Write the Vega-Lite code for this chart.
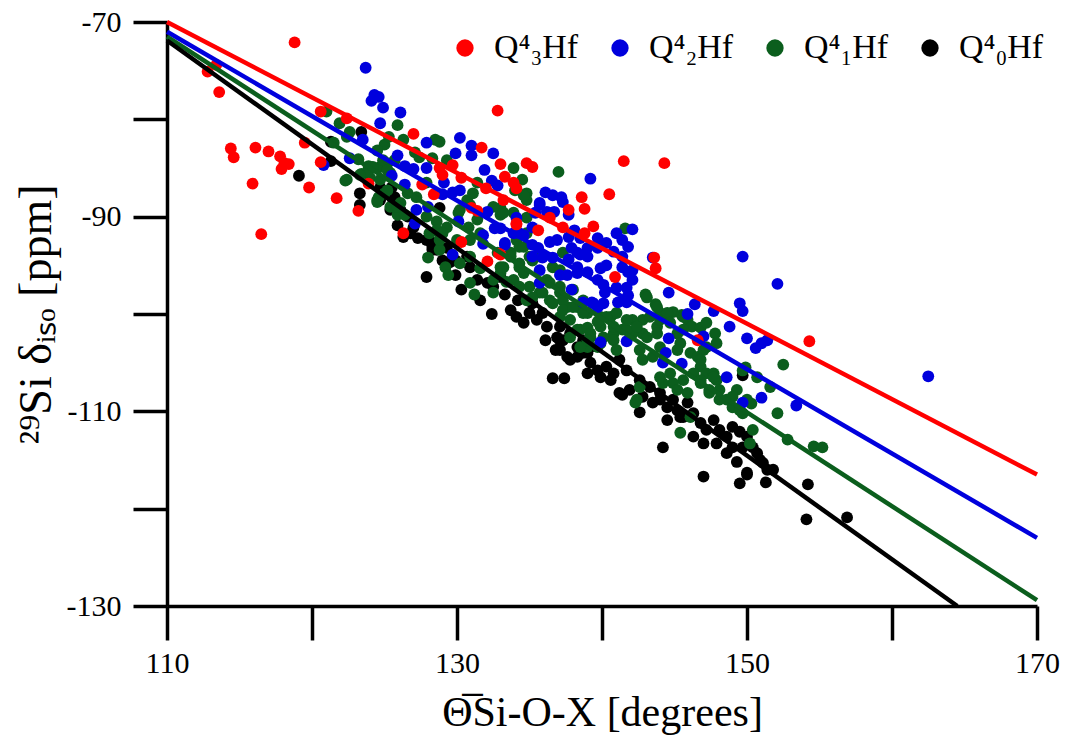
{
  "$schema": "https://vega.github.io/schema/vega-lite/v6.json",
  "width": 870,
  "height": 584,
  "autosize": {"type": "none"},
  "padding": {"left": 167, "top": 22, "right": 28, "bottom": 142},
  "config": {"view": {"stroke": null}, "font": "Liberation Serif"},
  "datasets": {
    "lines": [
      {"g": "3", "x": 110, "y": -70.0}, {"g": "3", "x": 170, "y": -116.5},
      {"g": "2", "x": 110, "y": -71.0}, {"g": "2", "x": 170, "y": -123.0},
      {"g": "1", "x": 110, "y": -71.5}, {"g": "1", "x": 170, "y": -129.4},
      {"g": "0", "x": 110, "y": -71.9}, {"g": "0", "x": 164.5, "y": -130.0}
    ],
    "pts": [
      {"g":"0","x":123.4,"y":-81.3},{"g":"0","x":121.3,"y":-82.3},{"g":"0","x":121.3,"y":-84.3},{"g":"0","x":119.1,"y":-85.8},{"g":"0","x":123.3,"y":-87.6},{"g":"0","x":123.3,"y":-88.8},{"g":"0","x":125.5,"y":-87.0},{"g":"0","x":125.7,"y":-88.0},{"g":"0","x":125.4,"y":-89.3},{"g":"0","x":125.9,"y":-89.0},{"g":"0","x":124.7,"y":-87.0},{"g":"0","x":125.6,"y":-88.3},{"g":"0","x":126.1,"y":-89.3},{"g":"0","x":126.6,"y":-90.0},{"g":"0","x":127.0,"y":-91.1},{"g":"0","x":127.3,"y":-92.2},{"g":"0","x":128.1,"y":-92.4},{"g":"0","x":128.3,"y":-93.4},{"g":"0","x":129.3,"y":-93.2},{"g":"0","x":129.0,"y":-94.5},{"g":"0","x":129.9,"y":-94.5},{"g":"0","x":130.7,"y":-94.1},{"g":"0","x":128.8,"y":-89.1},{"g":"0","x":125.9,"y":-90.9},{"g":"0","x":126.3,"y":-92.1},{"g":"0","x":124.7,"y":-88.3},{"g":"0","x":126.8,"y":-91.7},{"g":"0","x":127.9,"y":-92.4},{"g":"0","x":128.3,"y":-93.1},{"g":"0","x":128.6,"y":-93.4},{"g":"0","x":127.9,"y":-96.2},{"g":"0","x":130.9,"y":-95.2},{"g":"0","x":131.4,"y":-96.5},{"g":"0","x":132.1,"y":-96.8},{"g":"0","x":132.5,"y":-97.2},{"g":"0","x":133.0,"y":-96.2},{"g":"0","x":132.4,"y":-100.0},{"g":"0","x":133.7,"y":-99.6},{"g":"0","x":134.1,"y":-100.3},{"g":"0","x":134.6,"y":-100.9},{"g":"0","x":135.0,"y":-99.9},{"g":"0","x":135.5,"y":-100.6},{"g":"0","x":135.9,"y":-99.9},{"g":"0","x":135.2,"y":-98.9},{"g":"0","x":136.2,"y":-101.3},{"g":"0","x":136.9,"y":-102.4},{"g":"0","x":137.3,"y":-102.7},{"g":"0","x":137.8,"y":-102.0},{"g":"0","x":138.3,"y":-103.4},{"g":"0","x":138.7,"y":-102.7},{"g":"0","x":137.1,"y":-103.7},{"g":"0","x":137.6,"y":-104.4},{"g":"0","x":138.3,"y":-104.4},{"g":"0","x":139.0,"y":-104.0},{"g":"0","x":139.2,"y":-103.4},{"g":"0","x":136.6,"y":-106.6},{"g":"0","x":137.4,"y":-106.6},{"g":"0","x":139.0,"y":-106.1},{"g":"0","x":137.1,"y":-101.3},{"g":"0","x":137.1,"y":-102.7},{"g":"0","x":137.8,"y":-104.7},{"g":"0","x":138.7,"y":-104.0},{"g":"0","x":139.2,"y":-105.0},{"g":"0","x":139.7,"y":-105.8},{"g":"0","x":139.9,"y":-106.5},{"g":"0","x":140.6,"y":-106.8},{"g":"0","x":141.2,"y":-104.7},{"g":"0","x":141.7,"y":-105.8},{"g":"0","x":140.3,"y":-105.4},{"g":"0","x":140.8,"y":-106.1},{"g":"0","x":141.2,"y":-108.1},{"g":"0","x":141.9,"y":-107.8},{"g":"0","x":142.6,"y":-106.8},{"g":"0","x":142.8,"y":-108.5},{"g":"0","x":143.3,"y":-107.5},{"g":"0","x":144.0,"y":-108.1},{"g":"0","x":143.5,"y":-109.1},{"g":"0","x":144.5,"y":-109.6},{"g":"0","x":144.9,"y":-108.8},{"g":"0","x":145.2,"y":-109.9},{"g":"0","x":145.4,"y":-110.6},{"g":"0","x":145.9,"y":-109.1},{"g":"0","x":142.6,"y":-110.1},{"g":"0","x":146.3,"y":-110.2},{"g":"0","x":146.8,"y":-111.2},{"g":"0","x":147.2,"y":-111.9},{"g":"0","x":147.7,"y":-110.9},{"g":"0","x":148.1,"y":-111.9},{"g":"0","x":148.6,"y":-112.6},{"g":"0","x":146.3,"y":-112.6},{"g":"0","x":147.0,"y":-113.3},{"g":"0","x":147.9,"y":-113.3},{"g":"0","x":149.0,"y":-111.6},{"g":"0","x":149.5,"y":-112.1},{"g":"0","x":150.0,"y":-112.6},{"g":"0","x":150.7,"y":-114.3},{"g":"0","x":151.1,"y":-115.3},{"g":"0","x":151.8,"y":-116.0},{"g":"0","x":149.7,"y":-113.7},{"g":"0","x":149.0,"y":-113.7},{"g":"0","x":144.2,"y":-113.7},{"g":"0","x":148.6,"y":-114.3},{"g":"0","x":150.0,"y":-116.3},{"g":"0","x":147.0,"y":-116.7},{"g":"0","x":149.7,"y":-106.3},{"g":"0","x":141.4,"y":-108.3},{"g":"0","x":144.0,"y":-108.8},{"g":"0","x":144.5,"y":-110.9},{"g":"0","x":145.6,"y":-110.6},{"g":"0","x":149.3,"y":-115.2},{"g":"0","x":150.4,"y":-113.7},{"g":"0","x":150.9,"y":-115.0},{"g":"0","x":151.4,"y":-116.0},{"g":"0","x":149.5,"y":-117.4},{"g":"0","x":150.0,"y":-116.5},{"g":"0","x":151.3,"y":-117.3},{"g":"0","x":154.2,"y":-117.5},{"g":"0","x":154.1,"y":-121.1},{"g":"0","x":156.9,"y":-120.9},{"g":"0","x":129.9,"y":-96.0},{"g":"0","x":130.3,"y":-97.5},{"g":"0","x":131.6,"y":-98.6},{"g":"0","x":133.3,"y":-98.0},{"g":"0","x":134.2,"y":-98.6},{"g":"0","x":136.1,"y":-102.7},{"g":"0","x":136.8,"y":-103.7},{"g":"0","x":129.5,"y":-94.7},
      {"g":"1","x":121.0,"y":-79.2},{"g":"1","x":121.9,"y":-80.4},{"g":"1","x":122.6,"y":-81.3},{"g":"1","x":122.4,"y":-81.8},{"g":"1","x":121.5,"y":-82.4},{"g":"1","x":123.2,"y":-84.1},{"g":"1","x":123.9,"y":-84.8},{"g":"1","x":125.0,"y":-82.6},{"g":"1","x":125.3,"y":-81.8},{"g":"1","x":123.4,"y":-85.6},{"g":"1","x":124.0,"y":-86.0},{"g":"1","x":124.7,"y":-84.9},{"g":"1","x":125.2,"y":-84.5},{"g":"1","x":125.7,"y":-84.2},{"g":"1","x":125.4,"y":-85.5},{"g":"1","x":122.3,"y":-86.3},{"g":"1","x":124.6,"y":-88.0},{"g":"1","x":125.0,"y":-87.6},{"g":"1","x":124.5,"y":-88.5},{"g":"1","x":125.9,"y":-80.6},{"g":"1","x":126.3,"y":-82.1},{"g":"1","x":127.1,"y":-83.4},{"g":"1","x":127.4,"y":-83.9},{"g":"1","x":128.5,"y":-82.1},{"g":"1","x":128.8,"y":-82.3},{"g":"1","x":128.3,"y":-84.0},{"g":"1","x":129.3,"y":-84.2},{"g":"1","x":124.5,"y":-83.2},{"g":"1","x":124.9,"y":-84.2},{"g":"1","x":125.2,"y":-85.2},{"g":"1","x":124.2,"y":-84.9},{"g":"1","x":123.8,"y":-85.4},{"g":"1","x":123.3,"y":-85.7},{"g":"1","x":122.4,"y":-86.2},{"g":"1","x":124.7,"y":-86.2},{"g":"1","x":125.2,"y":-87.3},{"g":"1","x":124.5,"y":-88.3},{"g":"1","x":125.4,"y":-89.0},{"g":"1","x":126.1,"y":-88.6},{"g":"1","x":125.9,"y":-89.8},{"g":"1","x":126.6,"y":-87.6},{"g":"1","x":127.2,"y":-88.0},{"g":"1","x":127.9,"y":-86.5},{"g":"1","x":127.9,"y":-90.0},{"g":"1","x":128.6,"y":-90.5},{"g":"1","x":128.1,"y":-91.7},{"g":"1","x":128.8,"y":-91.7},{"g":"1","x":129.3,"y":-91.1},{"g":"1","x":130.1,"y":-89.6},{"g":"1","x":130.7,"y":-88.3},{"g":"1","x":131.1,"y":-87.6},{"g":"1","x":131.4,"y":-86.5},{"g":"1","x":130.8,"y":-91.1},{"g":"1","x":131.4,"y":-90.3},{"g":"1","x":130.9,"y":-92.4},{"g":"1","x":131.6,"y":-91.7},{"g":"1","x":128.0,"y":-94.2},{"g":"1","x":128.8,"y":-93.4},{"g":"1","x":133.9,"y":-85.0},{"g":"1","x":134.5,"y":-86.2},{"g":"1","x":134.8,"y":-87.6},{"g":"1","x":134.0,"y":-87.3},{"g":"1","x":137.0,"y":-85.4},{"g":"1","x":133.0,"y":-89.1},{"g":"1","x":133.9,"y":-89.6},{"g":"1","x":134.8,"y":-90.1},{"g":"1","x":132.8,"y":-93.7},{"g":"1","x":134.1,"y":-92.4},{"g":"1","x":135.2,"y":-94.5},{"g":"1","x":134.3,"y":-95.2},{"g":"1","x":133.0,"y":-95.2},{"g":"1","x":135.7,"y":-94.1},{"g":"1","x":136.6,"y":-95.2},{"g":"1","x":137.3,"y":-93.7},{"g":"1","x":134.8,"y":-88.3},{"g":"1","x":134.6,"y":-87.8},{"g":"1","x":133.0,"y":-89.8},{"g":"1","x":133.7,"y":-93.7},{"g":"1","x":134.3,"y":-93.1},{"g":"1","x":134.3,"y":-94.8},{"g":"1","x":135.0,"y":-94.1},{"g":"1","x":134.6,"y":-95.8},{"g":"1","x":133.0,"y":-95.8},{"g":"1","x":133.9,"y":-96.5},{"g":"1","x":135.0,"y":-97.2},{"g":"1","x":136.2,"y":-96.5},{"g":"1","x":135.7,"y":-97.8},{"g":"1","x":134.8,"y":-98.6},{"g":"1","x":136.4,"y":-98.6},{"g":"1","x":137.1,"y":-97.8},{"g":"1","x":137.6,"y":-99.3},{"g":"1","x":138.3,"y":-99.3},{"g":"1","x":141.6,"y":-91.2},{"g":"1","x":143.0,"y":-98.0},{"g":"1","x":143.7,"y":-99.0},{"g":"1","x":144.0,"y":-99.9},{"g":"1","x":144.5,"y":-100.3},{"g":"1","x":144.9,"y":-99.8},{"g":"1","x":145.5,"y":-100.1},{"g":"1","x":145.9,"y":-100.6},{"g":"1","x":146.2,"y":-101.3},{"g":"1","x":146.8,"y":-101.4},{"g":"1","x":147.2,"y":-100.9},{"g":"1","x":147.8,"y":-102.0},{"g":"1","x":147.9,"y":-103.0},{"g":"1","x":142.8,"y":-100.6},{"g":"1","x":142.8,"y":-102.0},{"g":"1","x":143.8,"y":-101.3},{"g":"1","x":142.1,"y":-100.6},{"g":"1","x":142.1,"y":-102.0},{"g":"1","x":138.7,"y":-98.6},{"g":"1","x":139.0,"y":-99.9},{"g":"1","x":139.9,"y":-100.3},{"g":"1","x":140.6,"y":-100.3},{"g":"1","x":141.0,"y":-99.9},{"g":"1","x":139.9,"y":-101.3},{"g":"1","x":140.8,"y":-102.0},{"g":"1","x":141.4,"y":-101.6},{"g":"1","x":137.8,"y":-100.6},{"g":"1","x":138.5,"y":-101.6},{"g":"1","x":137.8,"y":-102.4},{"g":"1","x":139.2,"y":-102.4},{"g":"1","x":139.9,"y":-103.0},{"g":"1","x":137.1,"y":-97.2},{"g":"1","x":137.3,"y":-98.6},{"g":"1","x":138.0,"y":-97.5},{"g":"1","x":137.1,"y":-100.3},{"g":"1","x":138.3,"y":-101.6},{"g":"1","x":139.0,"y":-101.4},{"g":"1","x":139.0,"y":-103.4},{"g":"1","x":139.7,"y":-103.4},{"g":"1","x":140.1,"y":-102.4},{"g":"1","x":139.7,"y":-100.8},{"g":"1","x":140.3,"y":-100.3},{"g":"1","x":140.8,"y":-101.3},{"g":"1","x":140.8,"y":-102.7},{"g":"1","x":141.0,"y":-103.7},{"g":"1","x":141.7,"y":-101.6},{"g":"1","x":141.7,"y":-100.6},{"g":"1","x":142.4,"y":-101.3},{"g":"1","x":142.6,"y":-103.7},{"g":"1","x":143.1,"y":-102.4},{"g":"1","x":142.8,"y":-104.7},{"g":"1","x":143.5,"y":-104.4},{"g":"1","x":144.0,"y":-103.4},{"g":"1","x":143.8,"y":-102.0},{"g":"1","x":143.3,"y":-100.3},{"g":"1","x":144.0,"y":-100.6},{"g":"1","x":144.5,"y":-99.9},{"g":"1","x":144.7,"y":-100.9},{"g":"1","x":145.2,"y":-102.0},{"g":"1","x":145.6,"y":-101.6},{"g":"1","x":145.4,"y":-103.0},{"g":"1","x":146.1,"y":-104.0},{"g":"1","x":146.6,"y":-104.4},{"g":"1","x":147.0,"y":-103.7},{"g":"1","x":146.8,"y":-105.4},{"g":"1","x":147.2,"y":-106.1},{"g":"1","x":146.3,"y":-106.1},{"g":"1","x":145.6,"y":-106.8},{"g":"1","x":144.9,"y":-107.1},{"g":"1","x":144.2,"y":-107.1},{"g":"1","x":144.0,"y":-106.5},{"g":"1","x":144.7,"y":-106.1},{"g":"1","x":145.2,"y":-107.8},{"g":"1","x":145.9,"y":-108.1},{"g":"1","x":146.8,"y":-107.1},{"g":"1","x":147.7,"y":-106.1},{"g":"1","x":147.9,"y":-106.8},{"g":"1","x":147.4,"y":-107.8},{"g":"1","x":148.1,"y":-107.8},{"g":"1","x":148.6,"y":-108.8},{"g":"1","x":149.3,"y":-107.8},{"g":"1","x":149.0,"y":-109.6},{"g":"1","x":149.7,"y":-110.2},{"g":"1","x":150.0,"y":-108.8},{"g":"1","x":147.2,"y":-103.4},{"g":"1","x":143.1,"y":-98.3},{"g":"1","x":143.8,"y":-99.3},{"g":"1","x":145.6,"y":-100.3},{"g":"1","x":142.4,"y":-108.8},{"g":"1","x":142.6,"y":-107.5},{"g":"1","x":145.2,"y":-103.7},{"g":"1","x":146.1,"y":-110.6},{"g":"1","x":145.4,"y":-112.2},{"g":"1","x":150.2,"y":-113.3},{"g":"1","x":150.4,"y":-111.9},{"g":"1","x":149.7,"y":-105.8},{"g":"1","x":150.7,"y":-106.5},{"g":"1","x":151.6,"y":-107.5},{"g":"1","x":152.1,"y":-110.2},{"g":"1","x":152.5,"y":-105.2},{"g":"1","x":152.8,"y":-112.9},{"g":"1","x":154.6,"y":-113.6},{"g":"1","x":155.2,"y":-113.7},{"g":"1","x":146.8,"y":-104.7},{"g":"1","x":147.7,"y":-106.5},{"g":"1","x":146.8,"y":-106.8},{"g":"1","x":149.9,"y":-105.5},{"g":"1","x":149.0,"y":-108.5},{"g":"1","x":149.5,"y":-109.9},{"g":"1","x":150.3,"y":-109.2},{"g":"1","x":142.3,"y":-109.1},{"g":"1","x":147.4,"y":-108.1},{"g":"1","x":148.1,"y":-108.8},{"g":"1","x":125.9,"y":-89.0},{"g":"1","x":126.4,"y":-89.8},{"g":"1","x":128.6,"y":-91.4},{"g":"1","x":129.0,"y":-91.7},{"g":"1","x":128.8,"y":-92.4},{"g":"1","x":130.0,"y":-92.4},{"g":"1","x":129.2,"y":-95.2},{"g":"1","x":129.4,"y":-96.0},{"g":"1","x":130.2,"y":-94.8},{"g":"1","x":130.9,"y":-94.1},{"g":"1","x":130.9,"y":-96.8},{"g":"1","x":131.2,"y":-98.0},{"g":"1","x":132.5,"y":-97.8},{"g":"1","x":131.6,"y":-95.3},{"g":"1","x":132.5,"y":-96.5},{"g":"1","x":133.2,"y":-95.2},{"g":"1","x":133.4,"y":-96.7},{"g":"1","x":134.3,"y":-97.2},{"g":"1","x":135.2,"y":-98.3},{"g":"1","x":135.9,"y":-97.8},{"g":"1","x":136.4,"y":-96.8},{"g":"1","x":134.6,"y":-93.1},{"g":"1","x":134.8,"y":-91.7},{"g":"1","x":133.7,"y":-94.1},{"g":"1","x":137.1,"y":-95.5},{"g":"1","x":136.6,"y":-98.9},{"g":"1","x":137.3,"y":-99.6},{"g":"1","x":138.0,"y":-99.3},{"g":"1","x":138.7,"y":-99.9},{"g":"1","x":139.2,"y":-102.0},{"g":"1","x":138.5,"y":-103.4},{"g":"1","x":139.0,"y":-102.7},{"g":"1","x":130.9,"y":-88.8},{"g":"1","x":132.5,"y":-89.0},{"g":"1","x":130.2,"y":-89.3},{"g":"1","x":133.2,"y":-89.6},
      {"g":"2","x":123.7,"y":-74.7},{"g":"2","x":124.3,"y":-77.5},{"g":"2","x":124.6,"y":-77.7},{"g":"2","x":124.1,"y":-78.1},{"g":"2","x":124.9,"y":-78.8},{"g":"2","x":124.7,"y":-80.4},{"g":"2","x":123.5,"y":-82.1},{"g":"2","x":122.6,"y":-84.0},{"g":"2","x":120.8,"y":-84.7},{"g":"2","x":125.5,"y":-85.8},{"g":"2","x":125.9,"y":-83.7},{"g":"2","x":126.1,"y":-79.3},{"g":"2","x":127.9,"y":-82.4},{"g":"2","x":130.2,"y":-81.9},{"g":"2","x":131.0,"y":-82.7},{"g":"2","x":129.9,"y":-83.5},{"g":"2","x":131.0,"y":-83.7},{"g":"2","x":132.5,"y":-83.5},{"g":"2","x":126.4,"y":-84.8},{"g":"2","x":127.0,"y":-85.1},{"g":"2","x":127.9,"y":-85.0},{"g":"2","x":131.9,"y":-85.2},{"g":"2","x":132.4,"y":-86.3},{"g":"2","x":126.4,"y":-86.7},{"g":"2","x":129.1,"y":-86.5},{"g":"2","x":129.7,"y":-87.5},{"g":"2","x":130.2,"y":-87.3},{"g":"2","x":132.8,"y":-86.8},{"g":"2","x":129.0,"y":-87.7},{"g":"2","x":128.0,"y":-89.0},{"g":"2","x":127.2,"y":-89.3},{"g":"2","x":127.1,"y":-90.7},{"g":"2","x":130.1,"y":-90.5},{"g":"2","x":132.1,"y":-89.5},{"g":"2","x":132.6,"y":-91.2},{"g":"2","x":129.7,"y":-93.9},{"g":"2","x":131.8,"y":-91.9},{"g":"2","x":131.8,"y":-92.8},{"g":"2","x":133.3,"y":-92.7},{"g":"2","x":134.3,"y":-91.7},{"g":"2","x":135.2,"y":-91.1},{"g":"2","x":135.7,"y":-88.6},{"g":"2","x":136.2,"y":-89.5},{"g":"2","x":136.1,"y":-87.5},{"g":"2","x":136.6,"y":-87.8},{"g":"2","x":137.2,"y":-88.0},{"g":"2","x":136.7,"y":-89.5},{"g":"2","x":137.3,"y":-88.5},{"g":"2","x":135.2,"y":-92.9},{"g":"2","x":135.6,"y":-93.2},{"g":"2","x":136.4,"y":-92.6},{"g":"2","x":136.9,"y":-92.4},{"g":"2","x":135.9,"y":-94.2},{"g":"2","x":136.6,"y":-94.2},{"g":"2","x":139.2,"y":-86.1},{"g":"2","x":135.7,"y":-88.8},{"g":"2","x":135.4,"y":-89.6},{"g":"2","x":137.7,"y":-89.8},{"g":"2","x":134.1,"y":-90.1},{"g":"2","x":133.9,"y":-91.7},{"g":"2","x":134.6,"y":-91.9},{"g":"2","x":133.0,"y":-91.2},{"g":"2","x":133.3,"y":-92.9},{"g":"2","x":135.2,"y":-94.1},{"g":"2","x":135.7,"y":-95.5},{"g":"2","x":135.7,"y":-96.8},{"g":"2","x":137.1,"y":-96.0},{"g":"2","x":137.7,"y":-92.1},{"g":"2","x":138.1,"y":-91.4},{"g":"2","x":138.5,"y":-92.2},{"g":"2","x":137.9,"y":-93.2},{"g":"2","x":138.3,"y":-93.7},{"g":"2","x":139.0,"y":-94.1},{"g":"2","x":137.7,"y":-94.4},{"g":"2","x":138.3,"y":-95.2},{"g":"2","x":139.7,"y":-92.2},{"g":"2","x":141.0,"y":-91.7},{"g":"2","x":141.4,"y":-92.4},{"g":"2","x":141.8,"y":-93.1},{"g":"2","x":140.3,"y":-92.7},{"g":"2","x":140.8,"y":-93.6},{"g":"2","x":142.1,"y":-91.3},{"g":"2","x":139.0,"y":-93.2},{"g":"2","x":139.7,"y":-93.2},{"g":"2","x":139.0,"y":-95.7},{"g":"2","x":139.9,"y":-95.3},{"g":"2","x":139.7,"y":-96.5},{"g":"2","x":140.1,"y":-97.0},{"g":"2","x":141.4,"y":-94.1},{"g":"2","x":141.4,"y":-95.2},{"g":"2","x":141.8,"y":-95.7},{"g":"2","x":142.1,"y":-95.5},{"g":"2","x":142.1,"y":-96.5},{"g":"2","x":141.7,"y":-97.3},{"g":"2","x":140.2,"y":-97.8},{"g":"2","x":139.3,"y":-98.8},{"g":"2","x":139.7,"y":-99.3},{"g":"2","x":140.1,"y":-98.9},{"g":"2","x":137.9,"y":-97.5},{"g":"2","x":138.7,"y":-98.8},{"g":"2","x":141.1,"y":-98.8},{"g":"2","x":141.7,"y":-98.8},{"g":"2","x":143.5,"y":-94.2},{"g":"2","x":144.6,"y":-97.8},{"g":"2","x":146.4,"y":-99.0},{"g":"2","x":147.7,"y":-99.7},{"g":"2","x":145.9,"y":-100.0},{"g":"2","x":139.9,"y":-102.9},{"g":"2","x":141.7,"y":-102.8},{"g":"2","x":144.6,"y":-102.5},{"g":"2","x":148.8,"y":-101.3},{"g":"2","x":149.7,"y":-94.1},{"g":"2","x":152.1,"y":-96.9},{"g":"2","x":149.5,"y":-98.9},{"g":"2","x":149.7,"y":-99.7},{"g":"2","x":150.0,"y":-102.5},{"g":"2","x":150.6,"y":-103.5},{"g":"2","x":151.0,"y":-103.0},{"g":"2","x":151.4,"y":-102.7},{"g":"2","x":147.0,"y":-102.3},{"g":"2","x":144.4,"y":-104.0},{"g":"2","x":144.2,"y":-105.0},{"g":"2","x":145.5,"y":-105.1},{"g":"2","x":148.6,"y":-106.5},{"g":"2","x":151.0,"y":-108.6},{"g":"2","x":149.7,"y":-109.1},{"g":"2","x":153.4,"y":-109.4},{"g":"2","x":162.5,"y":-106.4},{"g":"2","x":137.6,"y":-96.0},{"g":"2","x":138.3,"y":-95.8},{"g":"2","x":139.4,"y":-98.9},{"g":"2","x":141.0,"y":-97.3},{"g":"2","x":140.3,"y":-95.0},{"g":"2","x":138.5,"y":-93.9},{"g":"2","x":141.8,"y":-98.1},
      {"g":"3","x":118.8,"y":-72.1},{"g":"3","x":112.8,"y":-75.1},{"g":"3","x":113.4,"y":-74.4},{"g":"3","x":113.6,"y":-77.2},{"g":"3","x":114.4,"y":-83.0},{"g":"3","x":114.6,"y":-83.9},{"g":"3","x":116.1,"y":-82.9},{"g":"3","x":117.0,"y":-83.3},{"g":"3","x":117.8,"y":-83.8},{"g":"3","x":118.1,"y":-84.5},{"g":"3","x":118.4,"y":-84.6},{"g":"3","x":117.9,"y":-85.1},{"g":"3","x":115.9,"y":-86.6},{"g":"3","x":116.5,"y":-91.8},{"g":"3","x":119.5,"y":-82.4},{"g":"3","x":119.8,"y":-87.0},{"g":"3","x":120.6,"y":-84.4},{"g":"3","x":120.6,"y":-79.2},{"g":"3","x":122.4,"y":-79.9},{"g":"3","x":121.7,"y":-88.1},{"g":"3","x":123.2,"y":-89.4},{"g":"3","x":123.9,"y":-86.6},{"g":"3","x":132.8,"y":-79.1},{"g":"3","x":127.0,"y":-81.5},{"g":"3","x":131.7,"y":-82.9},{"g":"3","x":133.0,"y":-84.6},{"g":"3","x":134.8,"y":-84.5},{"g":"3","x":135.2,"y":-84.9},{"g":"3","x":128.8,"y":-85.0},{"g":"3","x":129.0,"y":-85.7},{"g":"3","x":129.7,"y":-84.7},{"g":"3","x":127.6,"y":-86.7},{"g":"3","x":128.4,"y":-87.7},{"g":"3","x":130.3,"y":-86.0},{"g":"3","x":132.0,"y":-87.1},{"g":"3","x":133.3,"y":-85.9},{"g":"3","x":133.9,"y":-86.5},{"g":"3","x":133.2,"y":-88.3},{"g":"3","x":131.0,"y":-89.1},{"g":"3","x":131.4,"y":-89.4},{"g":"3","x":134.1,"y":-90.7},{"g":"3","x":135.6,"y":-91.4},{"g":"3","x":136.4,"y":-90.1},{"g":"3","x":130.3,"y":-92.6},{"g":"3","x":132.1,"y":-94.6},{"g":"3","x":132.9,"y":-93.8},{"g":"3","x":126.3,"y":-91.7},{"g":"3","x":141.5,"y":-84.3},{"g":"3","x":144.3,"y":-84.5},{"g":"3","x":134.1,"y":-87.1},{"g":"3","x":138.6,"y":-88.0},{"g":"3","x":140.5,"y":-87.7},{"g":"3","x":137.7,"y":-89.3},{"g":"3","x":138.8,"y":-89.2},{"g":"3","x":137.3,"y":-91.1},{"g":"3","x":138.8,"y":-91.7},{"g":"3","x":139.4,"y":-91.0},{"g":"3","x":134.1,"y":-90.8},{"g":"3","x":133.0,"y":-93.9},{"g":"3","x":143.6,"y":-94.2},{"g":"3","x":143.7,"y":-95.3},{"g":"3","x":140.9,"y":-96.2},{"g":"3","x":146.6,"y":-102.7},{"g":"3","x":154.3,"y":-102.8}
    ]
  },
  "layer": [
    {
      "data": {"name": "pts"},
      "mark": {"type": "circle", "size": 140, "opacity": 1},
      "encoding": {
        "x": {
          "field": "x", "type": "quantitative",
          "scale": {"domain": [110, 170], "nice": false, "zero": false},
          "axis": {
            "values": [110, 120, 130, 140, 150, 160, 170],
            "labelExpr": "datum.value % 20 == 10 ? '' + datum.value : ''",
            "grid": false, "tickSize": 34, "tickWidth": 3.5, "tickColor": "black",
            "domainColor": "black", "domainWidth": 3.5,
            "labelFont": "Liberation Serif", "labelFontSize": 30, "labelColor": "black",
            "labelPadding": 8, "labelFlush": false, "labelOverlap": false,
            "title": "Θ̅Si-O-X [degrees]", "titleFont": "Liberation Serif", "titleFontSize": 42,
            "titleFontWeight": "normal", "titleColor": "black", "titlePadding": 14
          }
        },
        "y": {
          "field": "y", "type": "quantitative",
          "scale": {"domain": [-130, -70], "nice": false, "zero": false},
          "axis": {
            "values": [-130, -120, -110, -100, -90, -80, -70],
            "labelExpr": "datum.value % 20 != 0 ? '' + datum.value : ''",
            "grid": false, "tickSize": 34, "tickWidth": 3.5, "tickColor": "black",
            "domainColor": "black", "domainWidth": 3.5,
            "labelFont": "Liberation Serif", "labelFontSize": 30, "labelColor": "black",
            "labelPadding": 12, "labelFlush": false, "labelOverlap": false,
            "title": "²⁹Si δᵢₛₒ [ppm]", "titleFont": "Liberation Serif", "titleFontSize": 46,
            "titleFontWeight": "normal", "titleColor": "black", "titlePadding": 6
          }
        },
        "color": {
          "field": "g", "type": "nominal",
          "scale": {"domain": ["3", "2", "1", "0"], "range": ["#ff0000", "#0000dd", "#0b5e1d", "#000000"]},
          "legend": {
            "orient": "none", "legendX": 281, "legendY": 9,
            "direction": "horizontal", "title": null,
            "symbolType": "circle", "symbolSize": 300, "symbolStrokeWidth": 0,
            "labelFont": "Liberation Serif", "labelFontSize": 34, "labelColor": "black",
            "labelOffset": 12, "columnPadding": 24, "gridAlign": "all",
            "labelExpr": "datum.label == '3' ? 'Q⁴₃Hf' : datum.label == '2' ? 'Q⁴₂Hf' : datum.label == '1' ? 'Q⁴₁Hf' : 'Q⁴₀Hf'"
          }
        }
      }
    },
    {
      "data": {"name": "lines"},
      "mark": {"type": "line", "strokeWidth": 4.5},
      "encoding": {
        "x": {"field": "x", "type": "quantitative"},
        "y": {"field": "y", "type": "quantitative"},
        "detail": {"field": "g"},
        "stroke": {
          "field": "g", "type": "nominal",
          "scale": {"domain": ["3", "2", "1", "0"], "range": ["#ff0000", "#0000dd", "#0b5e1d", "#000000"]},
          "legend": null
        }
      }
    }
  ]
}
